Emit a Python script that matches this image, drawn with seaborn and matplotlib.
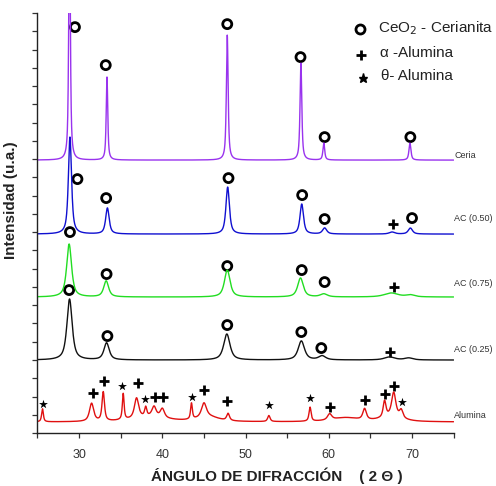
import matplotlib

matplotlib.use("Agg")

import matplotlib.pyplot as plt
import numpy as np
import pandas as pd
import seaborn as sns
from matplotlib.ticker import MultipleLocator


# samples from bottom to top, with their vertical offset (a.u.)
samples = ["Alumina", "AC (0.25)", "AC (0.75)", "AC (0.50)", "Ceria"]
offsets = [11, 73, 136, 199, 273]
colors = ["#e01010", "#111111", "#22dd22", "#1010d0", "#9933ee"]

# peak lists: position (2θ), height, FWHM
ceria_pos = [28.85, 33.35, 47.8, 56.65, 59.4, 69.75]
ceria_height = [260, 83, 125, 97, 17, 17]
ceria_fwhm = [0.22, 0.22, 0.25, 0.25, 0.25, 0.28]

ac50_pos = [28.9, 33.4, 47.85, 56.75, 59.5, 67.6, 69.8]
ac50_height = [97, 26, 47, 30, 6, 2, 6]
ac50_fwhm = [0.45, 0.5, 0.5, 0.5, 0.6, 0.8, 0.6]

ac75_pos = [28.8, 33.25, 47.8, 56.6, 59.4, 67.5, 69.8]
ac75_height = [53, 16, 27, 19, 3, 4, 2]
ac75_fwhm = [0.7, 0.7, 0.8, 0.8, 1.0, 2.0, 1.2]

ac25_pos = [28.85, 33.3, 47.75, 56.7, 59.2, 67.3, 69.6]
ac25_height = [61, 17, 26, 19, 4, 3, 2]
ac25_fwhm = [0.75, 0.75, 0.9, 0.9, 1.0, 1.5, 1.2]

alumina_pos = [25.6, 31.5, 32.9, 35.3, 36.9, 38.0, 39.0, 40.0, 43.5, 45.0,
               47.9, 52.8, 57.75, 60.1, 64.3, 66.7, 67.8, 68.7,
               38.5, 45.5, 62.0, 67.5]
alumina_height = [13, 18, 29, 26, 20, 9, 10, 9, 16, 14,
                  7, 6, 14, 6, 11, 16, 24, 8,
                  5, 5, 4, 5]
alumina_fwhm = [0.25, 0.6, 0.35, 0.25, 0.6, 0.3, 0.6, 0.6, 0.25, 0.7,
                0.4, 0.35, 0.3, 0.6, 0.5, 0.4, 0.6, 0.5,
                5.0, 3.0, 4.0, 3.0]

# phase markers (2θ, vertical position)
cerianite_x = [29.5, 33.2, 47.8, 56.6, 59.5, 69.8,
               29.8, 33.25, 47.95, 56.8, 59.5, 70.0,
               28.9, 33.3, 47.8, 56.75, 59.5,
               28.8, 33.4, 47.8, 56.7, 59.1]
cerianite_y = [406, 368, 409, 376, 296, 296,
               254, 235, 255, 238, 214, 215,
               201, 159, 167, 163, 151,
               143, 97, 108, 101, 85]
alpha_x = [67.7, 67.8, 67.35,
           31.65, 33.05, 37.1, 39.15, 40.1, 45.05, 47.8, 60.15, 64.4, 66.75, 67.85]
alpha_y = [209, 146, 81,
           40, 52, 50, 36, 36, 43, 32, 26, 33, 39, 47]
theta_x = [25.7, 35.2, 37.95, 43.6, 52.8, 57.75, 68.75]
theta_y = [29, 47, 34, 36, 28, 35, 31]

peak_lists = [
    (alumina_pos, alumina_height, alumina_fwhm),
    (ac25_pos, ac25_height, ac25_fwhm),
    (ac75_pos, ac75_height, ac75_fwhm),
    (ac50_pos, ac50_height, ac50_fwhm),
    (ceria_pos, ceria_height, ceria_fwhm),
]


def pattern(two_theta, pos, height, fwhm):
    # pseudo-Voigt profile for each listed reflection
    y = np.zeros_like(two_theta)
    for c, h, w in zip(pos, height, fwhm):
        hw = w / 2
        lor = 1 / (1 + ((two_theta - c) / hw) ** 2)
        gau = np.exp(-np.log(2) * ((two_theta - c) / hw) ** 2)
        y += h * (0.75 * lor + 0.25 * gau)
    return y


sns.set_style("ticks")
plt.rcParams["font.family"] = ["Liberation Sans", "DejaVu Sans"]

two_theta = np.linspace(25, 75, 3001)
frames = []
for name, off, (pos, height, fwhm) in zip(samples, offsets, peak_lists):
    frames.append(pd.DataFrame({
        "two_theta": two_theta,
        "intensity": off + pattern(two_theta, pos, height, fwhm),
        "sample": name,
    }))
df = pd.concat(frames, ignore_index=True)

fig = plt.figure(figsize=(4.96, 4.86), dpi=100)
ax = fig.add_axes([0.0756, 0.109, 0.839, 0.864])

sns.lineplot(data=df, x="two_theta", y="intensity", hue="sample",
             palette=dict(zip(samples, colors)), estimator=None, sort=False,
             linewidth=1.0, legend=False, ax=ax)

sns.scatterplot(x=cerianite_x, y=cerianite_y, marker="o", s=42,
                facecolors="none", edgecolor="black", linewidth=2.0, ax=ax)
sns.scatterplot(x=alpha_x, y=alpha_y, marker="+", s=55, color="black",
                linewidth=2.0, ax=ax)
sns.scatterplot(x=theta_x, y=theta_y, marker="*", s=45, color="black",
                linewidth=0, ax=ax)

label_dy = [7, 11, 14, 16, 5]
for name, off, dy in zip(samples, offsets, label_dy):
    ax.text(75.1, off + dy, name, fontsize=6.5, color="#333333",
            va="center", ha="left", clip_on=False)

# legend drawn as text, like the original
ax.plot([0.775], [0.962], "o", ms=6.5, mfc="none", mec="black", mew=2.0,
        transform=ax.transAxes)
ax.plot([0.778], [0.90], "+", ms=7, color="black", mew=2.0,
        transform=ax.transAxes)
ax.plot([0.781], [0.845], "*", ms=6.5, color="black", transform=ax.transAxes)
ax.text(0.818, 0.965, "CeO$_2$ - Cerianita", transform=ax.transAxes,
        fontsize=11, color="#222222", va="center")
ax.text(0.822, 0.905, "α -Alumina", transform=ax.transAxes,
        fontsize=11, color="#222222", va="center")
ax.text(0.826, 0.850, "θ- Alumina", transform=ax.transAxes,
        fontsize=11, color="#222222", va="center")

ax.set_xlim(25, 75)
ax.set_ylim(0, 420)
ax.xaxis.set_minor_locator(MultipleLocator(5))
ax.set_xticks([30, 40, 50, 60, 70])
ax.yaxis.set_major_locator(MultipleLocator(420 / 23))
ax.set_yticklabels([])
ax.tick_params(axis="both", which="both", direction="out", length=3.5,
               width=0.9, colors="#333333", labelsize=9)
ax.tick_params(axis="x", which="major", pad=8)
sns.despine(ax=ax)
for side in ["left", "bottom"]:
    ax.spines[side].set_linewidth(1.0)
    ax.spines[side].set_color("#222222")

ax.set_xlabel("ÁNGULO DE DIFRACCIÓN    ( 2 Θ )", fontsize=11,
              fontweight="bold", color="#222222")
ax.xaxis.set_label_coords(0.575, -0.082)
ax.set_ylabel("Intensidad (u.a.)", fontsize=11, fontweight="bold",
              color="#222222")
ax.yaxis.set_label_coords(-0.047, 0.555)

fig.savefig("out.png", dpi=100)
